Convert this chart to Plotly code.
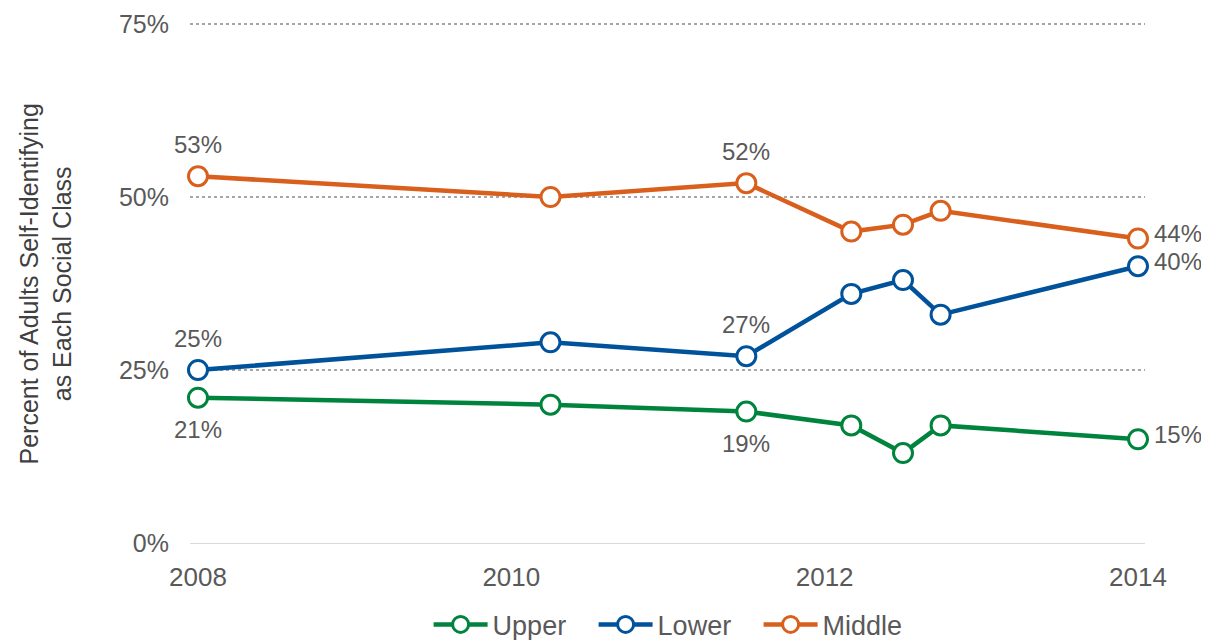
import plotly.graph_objects as go

years = [2008.0, 2010.25, 2011.5, 2012.17, 2012.5, 2012.74, 2014.0]
upper = [21, 20, 19, 17, 13, 17, 15]
lower = [25, 29, 27, 36, 38, 33, 40]
middle = [53, 50, 52, 45, 46, 48, 44]
x_ticks = [2008, 2010, 2012, 2014]
y_ticks = [0, 25, 50, 75]
y_tick_labels = ["0%", "25%", "50%", "75%"]
y_title = "Percent of Adults Self-Identifying<br>as Each Social Class"

FONT = "Liberation Sans, Arial, sans-serif"
TXT = "#595959"

# name, values, colour, side of the side labels ('above'/'below')
series = [
    ("Upper", upper, "#00843D", "below"),
    ("Lower", lower, "#00529B", "above"),
    ("Middle", middle, "#D95F1C", "above"),
]
labeled_idx = [0, 2]
end_idx = 6

fig = go.Figure()
annotations = []
for name, vals, color, side in series:
    fig.add_trace(go.Scatter(
        x=years, y=vals, name=name, mode="lines+markers",
        line=dict(color=color, width=4.5),
        marker=dict(size=19, color="white", line=dict(color=color, width=3)),
        cliponaxis=False,
    ))
    for i in labeled_idx:
        annotations.append(dict(
            x=years[i], y=vals[i], xref="x", yref="y", text=f"{vals[i]}%",
            showarrow=False, xanchor="center", yanchor="middle",
            yshift=32 if side == "above" else -32,
            font=dict(family=FONT, size=24, color=TXT)))
    annotations.append(dict(
        x=years[end_idx], y=vals[end_idx], xref="x", yref="y", text=f"{vals[end_idx]}%",
        showarrow=False, xanchor="left", yanchor="middle", xshift=14, yshift=5,
        font=dict(family=FONT, size=24, color=TXT)))

annotations.append(dict(
    x=-0.1508, y=0.5, xref="paper", yref="paper", text=y_title, textangle=-90,
    showarrow=False, xanchor="center", yanchor="middle",
    font=dict(family=FONT, size=25, color="#404040")))

# the page adds an 8px body margin, so the figure is sized/margined to compensate
fig.update_layout(
    width=1201, height=632,
    margin=dict(l=182, r=64, t=9, b=90),
    paper_bgcolor="white", plot_bgcolor="white",
    font=dict(family=FONT, size=25, color=TXT),
    showlegend=True,
    legend=dict(orientation="h", x=0.509, xanchor="center",
                yref="container", y=0.024, yanchor="middle",
                font=dict(family=FONT, size=27, color=TXT), itemwidth=54,
                entrywidth=96, entrywidthmode="pixels",
                bgcolor="rgba(0,0,0,0)"),
    annotations=annotations,
    xaxis=dict(range=[2007.949, 2014.0447], tickvals=x_ticks, ticktext=[str(t) for t in x_ticks],
               showgrid=False, zeroline=False, showline=False, ticks="",
               ticklabelstandoff=9, automargin=False,
               tickfont=dict(family=FONT, size=26, color=TXT)),
    yaxis=dict(range=[-1, 76], tickvals=y_ticks, ticktext=y_tick_labels,
               showgrid=True, gridcolor="#A6A6A6", griddash="dot", gridwidth=2,
               zeroline=True, zerolinecolor="#D9D9D9", zerolinewidth=1,
               showline=False, ticks="", ticklabelstandoff=20, automargin=False,
               tickfont=dict(family=FONT, size=25, color=TXT)),
)

fig.write_html("out.html")
